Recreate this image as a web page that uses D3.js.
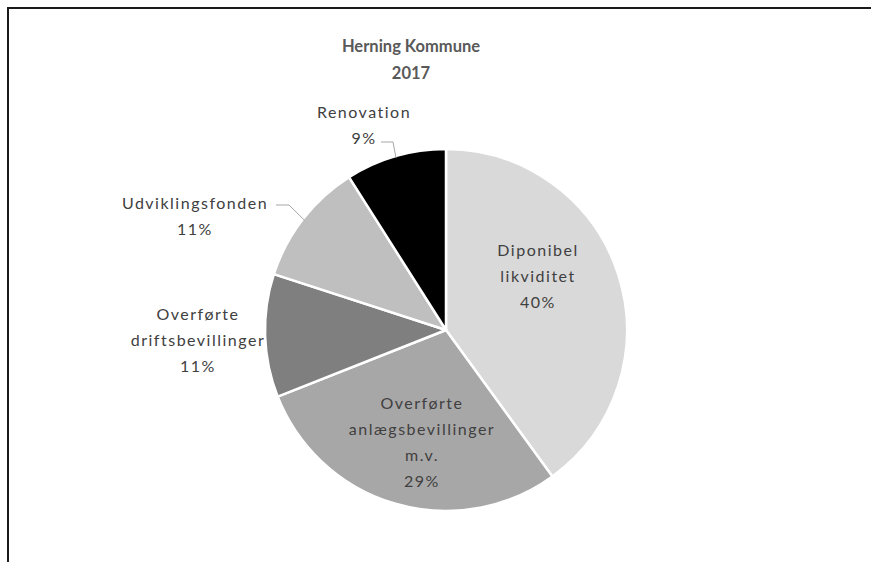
<!DOCTYPE html>
<html><head><meta charset="utf-8">
<script src="https://cdn.jsdelivr.net/npm/d3@7"></script>
<style>body{margin:0;background:#fff}svg{display:block}text{font-family:Lato,"Open Sans",sans-serif}</style>
</head><body><svg id="c" width="871" height="562"></svg>
<script>
const title = ["Herning Kommune", "2017"];
const categories = ["Diponibel likviditet", "Overførte anlægsbevillinger m.v.", "Overførte driftsbevillinger", "Udviklingsfonden", "Renovation"];
const labelLines = [["Diponibel", "likviditet"], ["Overførte", "anlægsbevillinger", "m.v."], ["Overførte", "driftsbevillinger"], ["Udviklingsfonden"], ["Renovation"]];
const values = [40, 29, 11, 11, 9];
const colors = ["#d9d9d9", "#a8a7a7", "#7f7f7f", "#bfbfbf", "#000000"];

const svg = d3.select("#c");
// frame
svg.append("path").attr("d", "M8,562V8H871").attr("fill", "none").attr("stroke", "#1a1a1a").attr("stroke-width", 2);

const cx = 446, cy = 330, R = 181;
const g = svg.append("g").attr("transform", `translate(${cx},${cy})`);
const data = categories.map((c, i) => ({cat: c, value: values[i], lines: labelLines[i], color: colors[i]}));
const pie = d3.pie().sort(null).value(d => d.value);
const arcs = pie(data);
const arc = d3.arc().innerRadius(0).outerRadius(R);
g.selectAll("path.s").data(arcs).join("path").attr("class", "s")
  .attr("d", arc).attr("fill", d => d.data.color)
  .attr("stroke", "#fff").attr("stroke-width", 2.5).attr("stroke-linejoin", "round");

svg.selectAll("text.t").data(title).join("text").attr("class", "t")
  .attr("x", 411).attr("y", (d, i) => 52 + i * 27).attr("text-anchor", "middle")
  .attr("font-size", 16.5).attr("font-weight", "bold").attr("fill", "#595959").text(d => d);

// label placement (absolute centre x, first baseline y)
const pos = [[538, 256], [422, 409], [198, 320], [195, 209], [364, 118]];
const fmt = d => Math.round(d.value) + "%";
const lab = svg.selectAll("g.l").data(arcs).join("g").attr("class", "l");
lab.each(function(d, i) {
  const lines = d.data.lines.concat([fmt(d.data)]);
  d3.select(this).selectAll("text").data(lines).join("text")
    .attr("x", pos[i][0]).attr("y", (t, j) => pos[i][1] + j * 26)
    .attr("text-anchor", "middle").attr("font-size", 16).attr("letter-spacing", 1.5)
    .attr("fill", "#404040").text(t => t);
});

// leader lines for outside labels
const leaders = [[3, [276, 205], [289, 205]], [4, [381, 142], [393, 142]]];
leaders.forEach(([i, a, b]) => {
  const a0 = arcs[i];
  const mid = (a0.startAngle + a0.endAngle) / 2;
  const ex = cx + (R - 2) * Math.sin(mid), ey = cy - (R - 2) * Math.cos(mid);
  svg.append("path").attr("d", `M${a[0]},${a[1]}H${b[0]}L${ex},${ey}`)
    .attr("fill", "none").attr("stroke", "#a6a6a6").attr("stroke-width", 1);
});
</script></body></html>
